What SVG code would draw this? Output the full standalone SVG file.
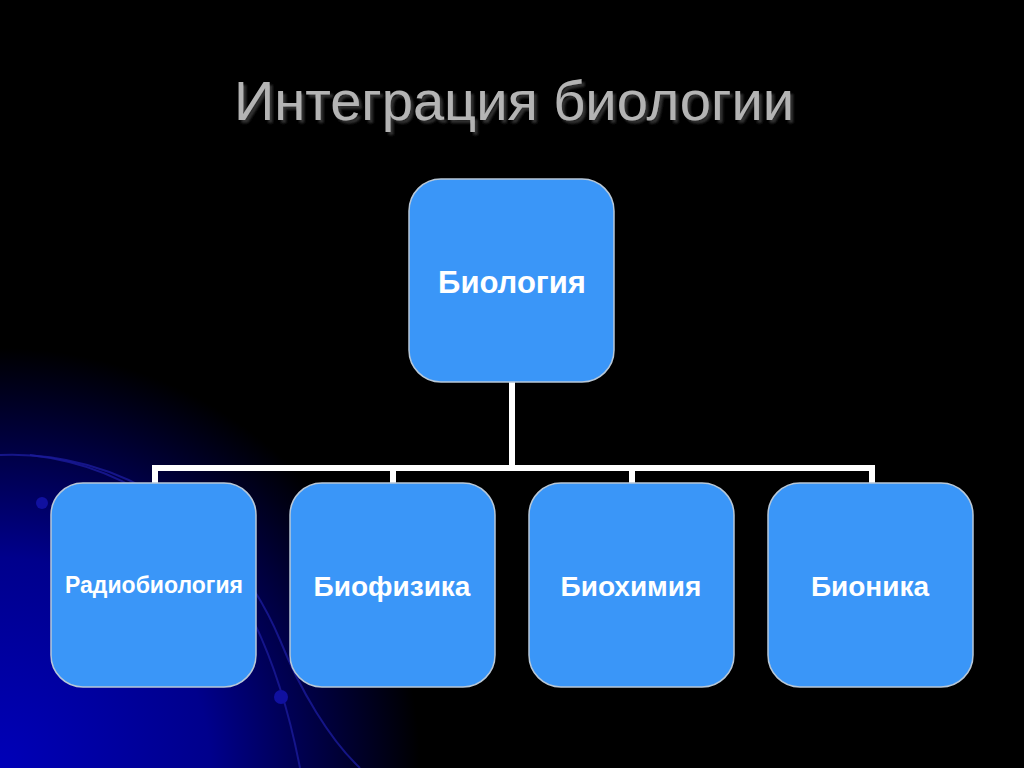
<svg xmlns="http://www.w3.org/2000/svg" width="1024" height="768" viewBox="0 0 1024 768">
<defs>
<radialGradient id="bg" cx="0" cy="768" r="420" gradientUnits="userSpaceOnUse">
<stop offset="0" stop-color="#0000b8"/><stop offset="0.5" stop-color="#00008c"/><stop offset="1" stop-color="#000000"/>
</radialGradient>
<filter id="sh" x="-5%" y="-20%" width="110%" height="140%"><feDropShadow dx="3" dy="3" stdDeviation="1" flood-color="#333"/></filter>
<style>
.box{fill:#3a96f8;stroke:#b8c8d8;stroke-width:1.5}
.lbl{font-family:"Liberation Sans",Arial,sans-serif;font-weight:bold;fill:#ffffff;text-anchor:middle}
.con{stroke:#ffffff;stroke-width:6;fill:none}
.arc{stroke:#1a1a9a;stroke-width:2;fill:none;opacity:0.8}
</style>
</defs>
<rect width="1024" height="768" fill="#000"/>
<rect width="1024" height="768" fill="url(#bg)"/>
<path class="arc" d="M0 455 C120 450 230 520 280 640 C300 690 330 740 360 768"/>
<path class="arc" d="M30 455 C160 470 260 560 300 768"/>
<circle cx="42" cy="503" r="6" fill="#1010a0"/>
<circle cx="281" cy="697" r="7" fill="#1010a0"/>
<text x="514" y="120" font-family="'Liberation Sans',Arial,sans-serif" font-size="56" fill="#b4b4b4" text-anchor="middle" filter="url(#sh)">Интеграция биологии</text>
<g id="connectors">
<path class="con" d="M512 382V468M155 468H872M155 465V483M393 465V483M632 465V483M872 465V483"/>
</g>
<g id="n-biology"><rect class="box" x="409" y="179" width="205" height="203" rx="32"/><text class="lbl" x="512" y="293" font-size="31">Биология</text></g>
<g id="n-radio"><rect class="box" x="51" y="483" width="205" height="204" rx="32"/><text class="lbl" x="154" y="593" font-size="23">Радиобиология</text></g>
<g id="n-phys"><rect class="box" x="290" y="483" width="205" height="204" rx="32"/><text class="lbl" x="392" y="596" font-size="28">Биофизика</text></g>
<g id="n-chem"><rect class="box" x="529" y="483" width="205" height="204" rx="32"/><text class="lbl" x="631" y="596" font-size="28">Биохимия</text></g>
<g id="n-bionic"><rect class="box" x="768" y="483" width="205" height="204" rx="32"/><text class="lbl" x="870" y="596" font-size="28">Бионика</text></g>
</svg>
